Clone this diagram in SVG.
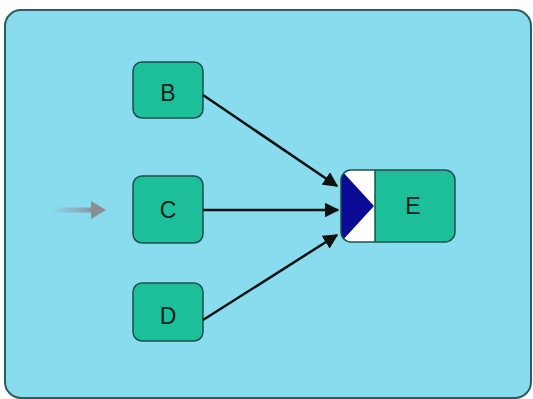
<svg xmlns="http://www.w3.org/2000/svg" width="533" height="399" viewBox="0 0 533 399">
  <defs>
    <style>
      .frame { fill: #88dcee; stroke: #2e5a60; stroke-width: 2; }
      .box { fill: #1cbf99; stroke: #1e4f4c; stroke-width: 1.5; }
      .outline { fill: none; stroke: #1e4f4c; stroke-width: 1.5; }
      .label { font-family: "Liberation Sans", Arial, sans-serif; font-size: 23px; fill: #10201c; text-anchor: middle; dominant-baseline: central; }
      .edge { stroke: #111; stroke-width: 2.5; fill: none; marker-end: url(#head); }
    </style>
    <marker id="head" viewBox="0 0 10 10" refX="9" refY="5" markerWidth="15" markerHeight="15" markerUnits="userSpaceOnUse" orient="auto">
      <path d="M0,0 L10,5 L0,10 z" fill="#111"/>
    </marker>
    <linearGradient id="fade" gradientUnits="userSpaceOnUse" x1="52" y1="0" x2="98" y2="0">
      <stop offset="0" stop-color="#8c8c95" stop-opacity="0"/>
      <stop offset="1" stop-color="#8c8c95" stop-opacity="1"/>
    </linearGradient>
    <clipPath id="eclip">
      <rect x="341" y="170" width="114" height="72" rx="10"/>
    </clipPath>
  </defs>

  <rect class="frame" x="5" y="10" width="526" height="388" rx="16"/>

  <!-- incoming entry arrow -->
  <g id="entry">
    <line x1="52" y1="210" x2="95" y2="210" stroke="url(#fade)" stroke-width="5"/>
    <path d="M91,201 L106,210 L91,219 z" fill="#8c8c95"/>
  </g>

  <g id="B">
    <rect class="box" x="133" y="62" width="70" height="56" rx="9"/>
    <text class="label" x="168" y="93">B</text>
  </g>
  <g id="C">
    <rect class="box" x="133" y="176" width="70" height="67" rx="9"/>
    <text class="label" x="168" y="210">C</text>
  </g>
  <g id="D">
    <rect class="box" x="133" y="283" width="70" height="58" rx="9"/>
    <text class="label" x="168" y="316">D</text>
  </g>

  <g id="E">
    <g clip-path="url(#eclip)">
      <rect x="341" y="170" width="34" height="72" fill="#ffffff"/>
      <rect x="375" y="170" width="80" height="72" fill="#1cbf99"/>
      <path d="M341,170 L374,206 L341,242 z" fill="#0b0b96"/>
    </g>
    <line x1="375" y1="170" x2="375" y2="242" stroke="#1e4f4c" stroke-width="1.5"/>
    <rect class="outline" x="341" y="170" width="114" height="72" rx="10"/>
    <text class="label" x="413" y="206">E</text>
  </g>

  <g id="connectors">
    <line class="edge" x1="203" y1="95" x2="337" y2="186"/>
    <line class="edge" x1="203" y1="210" x2="338" y2="210"/>
    <line class="edge" x1="203" y1="320" x2="337" y2="235"/>
  </g>
</svg>
